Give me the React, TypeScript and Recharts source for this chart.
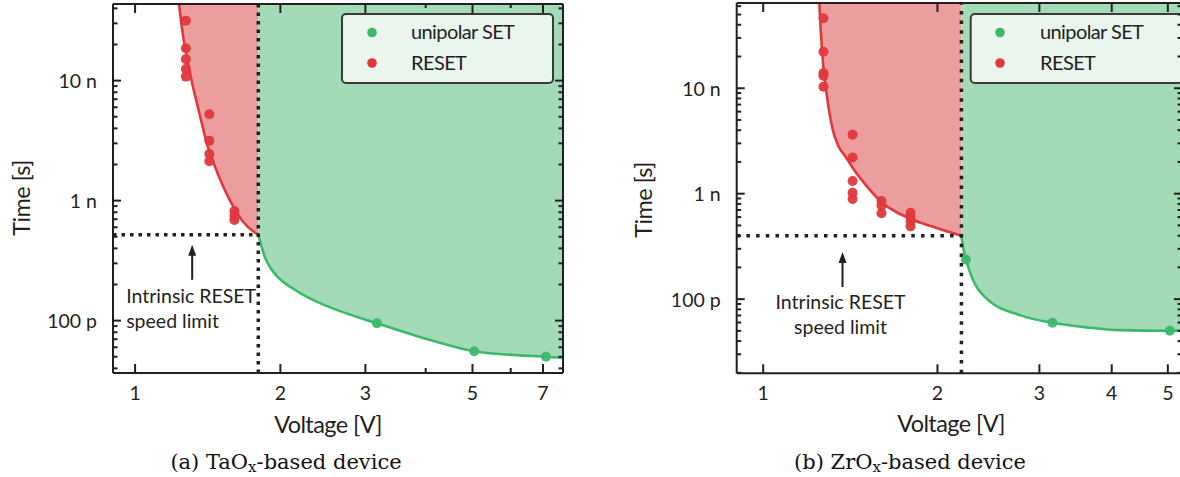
import React from 'react';
import {
  ComposedChart, XAxis, YAxis, Area, Line, Scatter, ReferenceLine, ReferenceDot, Customized,
} from 'recharts';

// ---------- shared tick values ----------
const X_TICKS_A = [1, 2, 3, 4, 5, 6, 7];
const X_MAJOR_A = [1, 2, 3, 5, 7];
const X_LABELS_A = [1, 2, 3, 5, 7];
const X_TICKS_B = [1, 2, 3, 4, 5];
const X_MAJOR_B = [1, 2, 3, 4, 5];
const X_LABELS_B = [1, 2, 3, 4, 5];
// time in ns
const Y_TICKS_A = [0.04, 0.05, 0.06, 0.07, 0.08, 0.09, 0.1, 0.2, 0.3, 0.4, 0.5, 0.6, 0.7, 0.8, 0.9, 1, 2, 3, 4, 5, 6, 7, 8, 9, 10, 20, 30, 40];
const Y_TICKS_B = [0.02, 0.03, 0.04, 0.05, 0.06, 0.07, 0.08, 0.09, 0.1, 0.2, 0.3, 0.4, 0.5, 0.6, 0.7, 0.8, 0.9, 1, 2, 3, 4, 5, 6, 7, 8, 9, 10, 20, 30, 40, 50, 60];
const Y_MAJOR = [0.1, 1, 10];
const Y_MAJOR_LABELS = ['100 p', '1 n', '10 n'];

const LEGEND_LABELS = ['unipolar SET', 'RESET'];

// ---------- panel (a) TaOx ----------
const A_X_DOMAIN = [0.9, 7.7];
const A_Y_DOMAIN = [0.0366, 43.5];
const A_RESET_V = [1.274, 1.274, 1.274, 1.274, 1.274, 1.425, 1.425, 1.425, 1.425, 1.606, 1.606, 1.606];
const A_RESET_T = [31.6, 18.6, 15.1, 12.5, 10.8, 5.25, 3.16, 2.45, 2.13, 0.82, 0.75, 0.69];
const A_SET_V = [3.17, 5.04, 7.1];
const A_SET_T = [0.095, 0.0555, 0.050];
const A_RESET_FIT_V = [1.233, 1.255, 1.304, 1.359, 1.408, 1.464, 1.573, 1.663, 1.772, 1.8];
const A_RESET_FIT_T = [43.5, 24.8, 10.8, 5.35, 3.0, 1.92, 1.0, 0.69, 0.54, 0.52];
const A_SET_FIT_V = [1.8, 1.824, 1.85, 1.886, 1.941, 2.016, 2.114, 2.249, 2.416, 2.658, 3.17, 3.89, 5.04, 6.27, 7.1, 7.7];
const A_SET_FIT_T = [0.52, 0.428, 0.353, 0.297, 0.25, 0.214, 0.187, 0.161, 0.14, 0.12, 0.095, 0.0731, 0.0555, 0.0513, 0.050, 0.0488];
const A_LIMIT_V = 1.8;
const A_LIMIT_T = 0.52;
const A_ARROW = { v: 1.313, t: 0.428 };

// ---------- panel (b) ZrOx ----------
const B_X_DOMAIN = [0.9, 5.29];
const B_Y_DOMAIN = [0.0198, 64.3];
const B_RESET_V = [1.271, 1.271, 1.271, 1.271, 1.271, 1.427, 1.427, 1.427, 1.427, 1.427, 1.601, 1.601, 1.601, 1.797, 1.797, 1.797, 1.797];
const B_RESET_T = [46.1, 22.2, 13.9, 13.1, 10.35, 3.63, 2.2, 1.32, 1.02, 0.89, 0.85, 0.77, 0.653, 0.66, 0.6, 0.55, 0.49];
const B_SET_V = [2.24, 3.16, 5.04];
const B_SET_T = [0.238, 0.0596, 0.0501];
const B_RESET_FIT_V = [1.25, 1.258, 1.27, 1.283, 1.299, 1.319, 1.346, 1.389, 1.428, 1.475, 1.529, 1.597, 1.695, 1.814, 1.987, 2.2];
const B_RESET_FIT_T = [64.3, 33.4, 16.3, 10.07, 6.23, 4.03, 2.9, 2.23, 1.756, 1.381, 1.086, 0.838, 0.674, 0.566, 0.475, 0.40];
const B_SET_FIT_V = [2.2, 2.215, 2.24, 2.305, 2.43, 2.776, 3.16, 3.62, 4.13, 5.04, 5.29];
const B_SET_FIT_T = [0.40, 0.31, 0.238, 0.151, 0.1016, 0.0705, 0.0596, 0.054, 0.0508, 0.0501, 0.0505];
const B_LIMIT_V = 2.2;
const B_LIMIT_T = 0.40;
const B_ARROW = { v: 1.371, t: 0.28 };

// ---------- styles ----------
const FONT = 'Lato, "Open Sans", "DejaVu Sans", sans-serif';
const SERIF = '"DejaVu Serif", "Liberation Serif", serif';
const INK = '#231f20';
const RED = '#e0383c';
const GREEN = '#3db86b';
const RED_FILL = '#ec9d9e';
const GREEN_FILL = '#a3dbb6';
const LEGEND_COLORS = [GREEN, RED];

const pts = (vs: number[], ts: number[]) => vs.map((v, i) => ({ v, t: ts[i] }));
const band = (vs: number[], ts: number[], top: number) => vs.map((v, i) => ({ v, t: ts[i], band: [ts[i], top] }));

type Panel = {
  left: number; width: number; height: number;
  plot: { l: number; t: number; r: number; b: number };
  xDomain: number[]; yDomain: number[];
  xTicks: number[]; xMajor: number[]; xLabels: number[]; yTicks: number[];
  resetV: number[]; resetT: number[]; setV: number[]; setT: number[];
  resetFitV: number[]; resetFitT: number[]; setFitV: number[]; setFitT: number[];
  limitV: number; limitT: number; arrow: { v: number; t: number };
  noteCenter: boolean; noteDx: number; noteDy: number;
  dash: string;
  legend: { x: number; y: number; w: number; h: number; mx: number; tx: number };
  yTitle: { x: number; y: number }; xTitle: { x: number; y: number };
  caption: { x: number; y: number; letter: string; chem: string };
};

const PANEL_A: Panel = {
  left: 0, width: 600, height: 477,
  plot: { l: 113, t: 4, r: 563, b: 373 },
  xDomain: A_X_DOMAIN, yDomain: A_Y_DOMAIN,
  xTicks: X_TICKS_A, xMajor: X_MAJOR_A, xLabels: X_LABELS_A, yTicks: Y_TICKS_A,
  resetV: A_RESET_V, resetT: A_RESET_T, setV: A_SET_V, setT: A_SET_T,
  resetFitV: A_RESET_FIT_V, resetFitT: A_RESET_FIT_T, setFitV: A_SET_FIT_V, setFitT: A_SET_FIT_T,
  limitV: A_LIMIT_V, limitT: A_LIMIT_T, arrow: A_ARROW,
  noteCenter: false, noteDx: -66, noteDy: 58,
  dash: '3.5 5',
  legend: { x: 342, y: 14, w: 211, h: 69, mx: 372, tx: 411 },
  yTitle: { x: 29.5, y: 198 }, xTitle: { x: 328, y: 433 },
  caption: { x: 286, y: 469, letter: 'a', chem: 'TaO' },
};

const PANEL_B: Panel = {
  left: 620, width: 600, height: 477,
  plot: { l: 116.7, t: 3, r: 562, b: 373.3 },
  xDomain: B_X_DOMAIN, yDomain: B_Y_DOMAIN,
  xTicks: X_TICKS_B, xMajor: X_MAJOR_B, xLabels: X_LABELS_B, yTicks: Y_TICKS_B,
  resetV: B_RESET_V, resetT: B_RESET_T, setV: B_SET_V, setT: B_SET_T,
  resetFitV: B_RESET_FIT_V, resetFitT: B_RESET_FIT_T, setFitV: B_SET_FIT_V, setFitT: B_SET_FIT_T,
  limitV: B_LIMIT_V, limitT: B_LIMIT_T, arrow: B_ARROW,
  noteCenter: true, noteDx: -2, noteDy: 57,
  dash: '3.5 6.2',
  legend: { x: 350.7, y: 14, w: 212, h: 69, mx: 380, tx: 420 },
  yTitle: { x: 31.7, y: 200 }, xTitle: { x: 331, y: 432 },
  caption: { x: 290, y: 469, letter: 'b', chem: 'ZrO' },
};

// base chart: no mirror axes
function seriesMargin(p: Panel) {
  return { top: p.plot.t, left: p.plot.l - 60, right: p.width - p.plot.r, bottom: p.height - p.plot.b - 30 };
}
// frame chart: 1px mirror axes on top and right
function frameMargin(p: Panel) {
  return { top: p.plot.t - 1, left: p.plot.l - 60, right: p.width - p.plot.r - 1, bottom: p.height - p.plot.b - 30 };
}

function SeriesChart({ p }: { p: Panel }) {
  const top = p.yDomain[1];
  const resetPts = pts(p.resetV, p.resetT);
  const setPts = pts(p.setV, p.setT);
  const resetFit = band(p.resetFitV, p.resetFitT, top);
  const setFit = band(p.setFitV, p.setFitT, top);

  const arrowShape = (props: any) => {
    const { cx, cy } = props;
    const tx = cx + p.noteDx;
    const anchor = p.noteCenter ? 'middle' : 'start';
    return (
      <g>
        <line x1={cx} x2={cx} y1={cy + 8} y2={cy + 35} stroke={INK} strokeWidth={2} />
        <path d={`M${cx - 4},${cy + 11} L${cx},${cy} L${cx + 4},${cy + 11} Z`} fill={INK} />
        <text x={tx} y={cy + p.noteDy} textAnchor={anchor} fontFamily={FONT} fontSize={19.5} fill={INK}>Intrinsic RESET</text>
        <text x={tx} y={cy + p.noteDy + 25} textAnchor={anchor} fontFamily={FONT} fontSize={19.5} fill={INK}>speed limit</text>
      </g>
    );
  };
  const dotShape = (color: string) => (props: any) => <circle cx={props.cx} cy={props.cy} r={5} fill={color} fillOpacity={0.95} />;

  return (
    <ComposedChart width={p.width} height={p.height} margin={seriesMargin(p)}>
      <Area data={resetFit} dataKey="band" type="monotone" stroke="none" fill={RED_FILL} fillOpacity={1} isAnimationActive={false} />
      <Area data={setFit} dataKey="band" type="monotone" stroke="none" fill={GREEN_FILL} fillOpacity={1} isAnimationActive={false} />
      <Line data={resetFit} dataKey="t" type="monotone" stroke={RED} strokeWidth={2.6} dot={false} isAnimationActive={false} />
      <Line data={setFit} dataKey="t" type="monotone" stroke={GREEN} strokeWidth={2.6} dot={false} isAnimationActive={false} />
      <ReferenceLine x={p.limitV} stroke={INK} strokeWidth={3.5} strokeDasharray={p.dash} />
      <ReferenceLine segment={[{ x: p.xDomain[0], y: p.limitT }, { x: p.limitV, y: p.limitT }]} stroke={INK} strokeWidth={3.5} strokeDasharray={p.dash} />
      <Scatter data={resetPts} dataKey="t" shape={dotShape(RED)} isAnimationActive={false} />
      <Scatter data={setPts} dataKey="t" shape={dotShape(GREEN)} isAnimationActive={false} />
      <ReferenceDot x={p.arrow.v} y={p.arrow.t} shape={arrowShape} />
      <XAxis dataKey="v" type="number" scale="log" domain={p.xDomain} allowDataOverflow ticks={p.xTicks}
        height={30} tick={false} tickLine={false} axisLine={false} />
      <YAxis dataKey="t" type="number" scale="log" domain={p.yDomain} allowDataOverflow ticks={p.yTicks}
        width={60} tick={false} tickLine={false} axisLine={false} />
    </ComposedChart>
  );
}

function FrameChart({ p }: { p: Panel }) {
  const { plot } = p;
  const bottomTick = (props: any) => {
    const { x, payload } = props;
    const v = payload.value;
    const major = p.xMajor.indexOf(v) >= 0;
    return (
      <g>
        <line x1={x} x2={x} y1={plot.b} y2={plot.b - (major ? 9 : 5)} stroke={INK} strokeWidth={2} />
        {p.xLabels.indexOf(v) >= 0 && (
          <text x={x} y={plot.b + 27} textAnchor="middle" fontFamily={FONT} fontSize={19.5} fill={INK}>{String(v)}</text>
        )}
      </g>
    );
  };
  const topTick = (props: any) => {
    const { x, payload } = props;
    const major = p.xMajor.indexOf(payload.value) >= 0;
    return <line x1={x} x2={x} y1={plot.t} y2={plot.t + (major ? 9 : 4)} stroke={INK} strokeWidth={2} />;
  };
  const leftTick = (props: any) => {
    const { y, payload } = props;
    const idx = Y_MAJOR.indexOf(payload.value);
    const major = idx >= 0;
    return (
      <g>
        <line x1={plot.l} x2={plot.l + (major ? 8 : 4.5)} y1={y} y2={y} stroke={INK} strokeWidth={2} />
        {major && (
          <text x={plot.l - 16} y={y} textAnchor="end" dominantBaseline="central" fontFamily={FONT} fontSize={19.5} fill={INK}>{Y_MAJOR_LABELS[idx]}</text>
        )}
      </g>
    );
  };
  const rightTick = (props: any) => {
    const { y, payload } = props;
    const major = Y_MAJOR.indexOf(payload.value) >= 0;
    return <line x1={plot.r} x2={plot.r - (major ? 8 : 4.5)} y1={y} y2={y} stroke={INK} strokeWidth={2} />;
  };

  const Decor = () => (
    <g>
      <rect x={p.legend.x} y={p.legend.y} width={p.legend.w} height={p.legend.h} rx={4} ry={4}
        fill="#eaf5ed" stroke="#3a3a3a" strokeWidth={2} />
      {LEGEND_LABELS.map((lab, i) => (
        <g key={lab}>
          <circle cx={p.legend.mx} cy={p.legend.y + 18.5 + i * 30.5} r={4.8} fill={LEGEND_COLORS[i]} />
          <text x={p.legend.tx} y={p.legend.y + 25 + i * 31} fontFamily={FONT} fontSize={20} letterSpacing={-0.6} fill={INK}>{lab}</text>
        </g>
      ))}
      <text x={p.xTitle.x} y={p.xTitle.y} textAnchor="middle" fontFamily={FONT} fontSize={23.5} letterSpacing={-0.6} fill={INK}>Voltage [V]</text>
      <text x={p.yTitle.x} y={p.yTitle.y} textAnchor="middle" fontFamily={FONT} fontSize={23.5} letterSpacing={-0.6} fill={INK}
        transform={`rotate(-90 ${p.yTitle.x} ${p.yTitle.y})`}>Time [s]</text>
      <text x={p.caption.x} y={p.caption.y} textAnchor="middle" fontFamily={SERIF} fontSize={21} fill="#111">
        {`(${p.caption.letter}) ${p.caption.chem}`}
        <tspan fontSize={15} dy={3}>x</tspan>
        <tspan dy={-3}>-based device</tspan>
      </text>
    </g>
  );

  return (
    <ComposedChart width={p.width} height={p.height} margin={frameMargin(p)}>
      <XAxis dataKey="v" type="number" scale="log" domain={p.xDomain} allowDataOverflow ticks={p.xTicks} interval={0}
        height={30} tick={bottomTick} tickLine={false} axisLine={{ stroke: INK, strokeWidth: 2 }} />
      <XAxis xAxisId="top" orientation="top" dataKey="v" type="number" scale="log" domain={p.xDomain} allowDataOverflow ticks={p.xTicks} interval={0}
        height={1} tick={topTick} tickLine={false} axisLine={{ stroke: INK, strokeWidth: 2 }} />
      <YAxis dataKey="t" type="number" scale="log" domain={p.yDomain} allowDataOverflow ticks={p.yTicks} interval={0}
        width={60} tick={leftTick} tickLine={false} axisLine={{ stroke: INK, strokeWidth: 2 }} />
      <YAxis yAxisId="right" orientation="right" dataKey="t" type="number" scale="log" domain={p.yDomain} allowDataOverflow ticks={p.yTicks} interval={0}
        width={1} tick={rightTick} tickLine={false} axisLine={{ stroke: INK, strokeWidth: 2 }} />
      <Customized component={Decor} />
    </ComposedChart>
  );
}

function ChartPanel({ p }: { p: Panel }) {
  return (
    <div style={{ position: 'absolute', left: p.left, top: 0, width: p.width, height: p.height }}>
      <div style={{ position: 'absolute', left: 0, top: 0 }}>
        <SeriesChart p={p} />
      </div>
      <div style={{ position: 'absolute', left: 0, top: 0, pointerEvents: 'none' }}>
        <FrameChart p={p} />
      </div>
    </div>
  );
}

export default function App() {
  return (
    <div style={{ position: 'fixed', left: 0, top: 0, width: 1180, height: 477, overflow: 'hidden', background: '#fff' }}>
      <ChartPanel p={PANEL_A} />
      <ChartPanel p={PANEL_B} />
    </div>
  );
}
